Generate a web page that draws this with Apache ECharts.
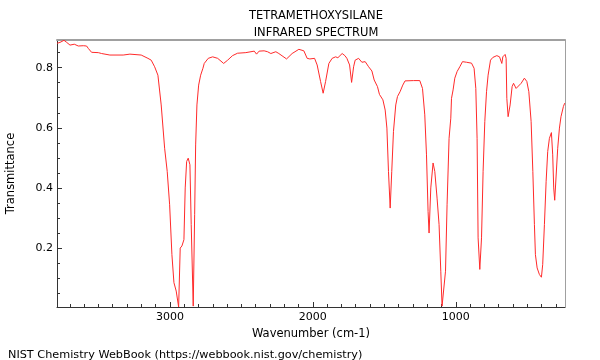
<!DOCTYPE html>
<html>
<head>
<meta charset="utf-8">
<script src="https://cdn.jsdelivr.net/npm/echarts@6/dist/echarts.min.js"></script>
<style>html,body{margin:0;padding:0;background:#fff}#c{width:600px;height:360px}</style>
</head>
<body>
<div id="c"></div>
<script>
const wavenumbers = [3790,3769,3741,3722,3699,3669,3641,3606,3583,3571,3548,3501,3478,3420,3327,3280,3201,3154,3131,3107,3084,3061,3037,3019,3002,2986,2972,2956,2939,2928,2916,2902,2893,2883,2872,2860,2851,2837,2827,2820,2811,2799,2785,2769,2760,2732,2701,2666,2624,2596,2562,2527,2469,2410,2394,2376,2341,2317,2294,2259,2238,2184,2145,2098,2063,2040,2021,1988,1970,1946,1928,1911,1888,1865,1841,1825,1795,1776,1762,1743,1729,1715,1704,1680,1657,1634,1610,1587,1571,1548,1534,1510,1494,1482,1471,1459,1448,1436,1420,1408,1390,1371,1355,1296,1252,1233,1217,1205,1194,1187,1175,1159,1147,1131,1117,1105,1096,1084,1072,1061,1047,1035,1030,1019,1007,991,972,953,925,890,872,860,851,844,832,820,809,797,785,774,757,741,713,694,685,678,671,655,648,643,634,620,606,596,578,543,520,503,489,473,461,450,443,431,415,401,392,380,368,357,345,331,322,315,308,299,287,275,264,247,238];
const transmittance = [0.881,0.884,0.891,0.884,0.875,0.878,0.872,0.873,0.872,0.864,0.851,0.850,0.847,0.842,0.842,0.845,0.842,0.831,0.825,0.803,0.775,0.676,0.532,0.455,0.344,0.178,0.085,0.057,0.004,0.200,0.207,0.228,0.400,0.488,0.499,0.477,0.278,0.007,0.311,0.543,0.676,0.742,0.775,0.798,0.814,0.831,0.836,0.831,0.814,0.825,0.840,0.848,0.850,0.855,0.845,0.855,0.856,0.853,0.847,0.853,0.847,0.829,0.847,0.861,0.856,0.831,0.829,0.831,0.809,0.754,0.715,0.754,0.814,0.831,0.836,0.833,0.847,0.840,0.831,0.809,0.751,0.803,0.825,0.831,0.818,0.820,0.803,0.789,0.759,0.737,0.711,0.693,0.659,0.599,0.455,0.333,0.455,0.588,0.676,0.704,0.720,0.742,0.756,0.757,0.757,0.731,0.643,0.510,0.322,0.250,0.400,0.483,0.455,0.366,0.278,0.123,0.007,0.013,0.123,0.344,0.565,0.632,0.698,0.726,0.765,0.787,0.803,0.820,0.818,0.815,0.798,0.731,0.565,0.234,0.129,0.234,0.455,0.621,0.720,0.775,0.825,0.834,0.840,0.836,0.840,0.814,0.836,0.844,0.831,0.698,0.637,0.676,0.737,0.748,0.731,0.748,0.765,0.754,0.720,0.621,0.455,0.278,0.178,0.134,0.112,0.103,0.145,0.278,0.422,0.521,0.565,0.584,0.510,0.400,0.359,0.433,0.532,0.599,0.637,0.671,0.682];
const xMajorTicks = [1000, 2000, 3000];
const xMinorTicks = [300,400,500,600,700,800,900,1100,1200,1300,1400,1500,1600,1700,1800,1900,2100,2200,2300,2400,2500,2600,2700,2800,2900,3100,3200,3300,3400,3500,3600,3700];
const yMajorTicks = [0.2, 0.4, 0.6, 0.8];
const yMinorTicks = [0.05,0.1,0.15,0.25,0.3,0.35,0.45,0.5,0.55,0.65,0.7,0.75,0.85];

const FONT = 'DejaVu Sans';
const X_MIN = 236, X_MAX = 3790, Y_MIN = 0.004, Y_MAX = 0.892;
const data = wavenumbers.map((w, i) => [w, transmittance[i]]);
const axisColor = '#333';

const chart = echarts.init(document.getElementById('c'), null, {renderer: 'canvas'});
chart.setOption({
  animation: false,
  backgroundColor: '#fff',
  title: [
    {text: 'TETRAMETHOXYSILANE', left: 311, top: 5, textAlign: 'center',
     textStyle: {fontFamily: FONT, fontSize: 11.5, fontWeight: 'normal', color: '#000'}},
    {text: 'INFRARED SPECTRUM', left: 311, top: 22, textAlign: 'center',
     textStyle: {fontFamily: FONT, fontSize: 11.5, fontWeight: 'normal', color: '#000'}},
    {text: 'NIST Chemistry WebBook (https://webbook.nist.gov/chemistry)', left: 3, top: 345,
     textStyle: {fontFamily: FONT, fontSize: 11.25, fontWeight: 'normal', color: '#000'}}
  ],
  grid: {left: 57, right: 35, top: 40, bottom: 53, containLabel: false, outerBoundsMode: 'none'},
  xAxis: [
    {type: 'value', min: X_MIN, max: X_MAX, inverse: true, position: 'bottom',
     axisLine: {show: true, lineStyle: {color: axisColor, width: 1}},
     axisTick: {show: true, inside: true, length: 5, customValues: xMajorTicks, lineStyle: {color: axisColor}},
     axisLabel: {show: true, customValues: xMajorTicks, margin: 5, fontFamily: FONT, fontSize: 11, color: '#000',
                 formatter: v => String(Math.round(v))},
     splitLine: {show: false},
     name: 'Wavenumber (cm-1)', nameLocation: 'middle', nameGap: 19,
     nameTextStyle: {fontFamily: FONT, fontSize: 11.5, color: '#000'}},
    {type: 'value', min: X_MIN, max: X_MAX, inverse: true, position: 'bottom',
     axisLine: {show: false},
     axisTick: {show: true, inside: true, length: 3, customValues: xMinorTicks, lineStyle: {color: axisColor}},
     axisLabel: {show: false}, splitLine: {show: false}},
    {type: 'value', min: X_MIN, max: X_MAX, inverse: true, position: 'top',
     axisLine: {show: true, lineStyle: {color: '#a0a0a0', width: 2}},
     axisTick: {show: false}, axisLabel: {show: false}, splitLine: {show: false}}
  ],
  yAxis: [
    {type: 'value', min: Y_MIN, max: Y_MAX, position: 'left',
     axisLine: {show: true, lineStyle: {color: axisColor, width: 1}},
     axisTick: {show: true, inside: true, length: 5, customValues: yMajorTicks, lineStyle: {color: axisColor}},
     axisLabel: {show: true, customValues: yMajorTicks, margin: 4, fontFamily: FONT, fontSize: 11, color: '#000',
                 formatter: v => Number(v).toFixed(1)},
     splitLine: {show: false},
     name: 'Transmittance', nameLocation: 'middle', nameGap: 40, nameRotate: 90,
     nameTextStyle: {fontFamily: FONT, fontSize: 11.5, color: '#000'}},
    {type: 'value', min: Y_MIN, max: Y_MAX, position: 'left',
     axisLine: {show: false},
     axisTick: {show: true, inside: true, length: 3, customValues: yMinorTicks, lineStyle: {color: axisColor}},
     axisLabel: {show: false}, splitLine: {show: false}},
    {type: 'value', min: Y_MIN, max: Y_MAX, position: 'right',
     axisLine: {show: true, lineStyle: {color: '#a0a0a0', width: 1}},
     axisTick: {show: false}, axisLabel: {show: false}, splitLine: {show: false}}
  ],
  series: [{
    type: 'line', xAxisIndex: 0, yAxisIndex: 0, data: data,
    showSymbol: false, symbol: 'none', smooth: false,
    lineStyle: {color: '#ff2a2a', width: 1},
    clip: true
  }]
});
</script>
</body>
</html>
